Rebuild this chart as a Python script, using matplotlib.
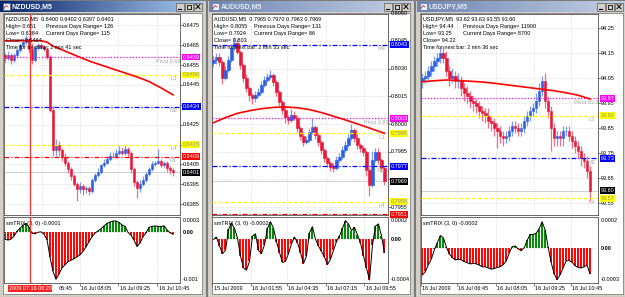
import matplotlib
matplotlib.use("Agg")
import matplotlib.pyplot as plt
import matplotlib.transforms as mtrans
from matplotlib import font_manager
from matplotlib.patches import Rectangle
from matplotlib.colors import to_rgb
import numpy as np

# ======================= DATA =======================
# ---- NZDUSD ----
nz_title = "NZDUSD,M5"
nz_first_open = 0.6460
nz_close = [0.64585, 0.6460, 0.64575, 0.6460, 0.64625, 0.6465, 0.64665, 0.6468, 0.6463, 0.64575,
            0.64635, 0.6465, 0.6464, 0.6463, 0.64592, 0.64325, 0.64125, 0.6415, 0.64125, 0.6409,
            0.6406, 0.64025, 0.6399, 0.6395, 0.63925, 0.6394, 0.63925, 0.6393, 0.63915, 0.6397,
            0.63995, 0.6401, 0.64045, 0.6406, 0.6408, 0.64095, 0.64095, 0.6411, 0.6412, 0.6411,
            0.6413, 0.6411, 0.64025, 0.6396, 0.6393, 0.6395, 0.6397, 0.6400, 0.64025, 0.6405,
            0.6406, 0.6407, 0.64045, 0.6406, 0.6403, 0.6402, 0.6401]
nz_wick_hi = [1, 2, 1, 1, 1, 1, 2, 2, 1, 3, 1, 1, 1, 1, 1, 1, 2, 3, 2, 1,
              2, 1, 1, 1, 1, 2, 1, 1, 1, 1, 1, 2, 1, 2, 1, 2, 2, 2, 3, 2,
              2, 1, 1, 1, 1, 2, 2, 1, 1, 2, 1, 6, 1, 1, 1, 1, 1]
nz_wick_lo = [2, 1, 2, 1, 1, 1, 1, 1, 2, 2, 1, 1, 1, 1, 1, 1, 3, 3, 3, 2,
              2, 2, 2, 1, 6, 2, 3, 2, 2, 1, 1, 1, 1, 1, 1, 1, 1, 1, 1, 1,
              1, 2, 2, 2, 5, 2, 1, 1, 1, 1, 1, 1, 1, 1, 2, 2, 2]
nz_ma_index = [0, 4, 8, 12, 14, 16, 20, 24, 28, 32, 36, 40, 44, 48, 52, 56]
nz_ma = [0.64672, 0.64672, 0.64672, 0.64672, 0.64665, 0.64645, 0.6462, 0.64595, 0.6457, 0.6455,
         0.6453, 0.6451, 0.6449, 0.64467, 0.64435, 0.6440]
nz_levels = [0.6459, 0.6450, 0.6434, 0.6415, 0.6409]
nz_level_kinds = ["pivot", "cam", "mid", "cam", "res"]
nz_level_names = ["Pivot 0.6459", "L3", "M2", "L4", "R1"]
nz_price_ticks = [0.6475, 0.6465, 0.6455, 0.6445, 0.6435, 0.6425, 0.6415, 0.6405, 0.6395, 0.6385]
nz_trix = [-1.4, -1.6, -1.4, -0.8, 0.2, 0.8, 1.4, 1.8, 1.0, -0.2,
           -0.3, 0.0, 0.1, -0.4, -1.5, -5.0, -8.0, -9.6, -8.5, -7.3,
           -6.6, -6.0, -5.7, -5.4, -5.0, -4.6, -3.9, -3.0, -1.9, -0.9,
           -0.2, 0.3, 0.7, 1.3, 1.8, 2.1, 2.3, 2.3, 2.0, 1.5,
           1.2, 0.0, -0.6, -1.6, -2.9, -2.2, -0.9, -0.1, 1.0, 1.2,
           1.3, 1.2, 1.2, 1.3, 0.5, -0.1, -0.4]  # x 1e-4
nz_trix_labels = ["0.0003", "0.00", "-0.001"]
nz_trix_title = "smTRIX (3, 0) -0.0001"
nz_time_labels = ["06:45", "16 Jul 08:05", "16 Jul 09:25", "16 Jul 10:45"]
nz_marker_label = "2009.07.16 06:20"
nz_info_left = ["NZDUSD,M5  0.6400 0.6402 0.6397 0.6401", "High= 0.651", "Low= 0.6384",
                "Close= 0.6464", "Time for next bar: 2 min 41 sec"]
nz_info_right = ["", "Previous Days Range= 126", "Current Days Range= 115", "", ""]

# ---- AUDUSD ----
au_title = "AUDUSD,M5"
au_first_open = 0.8033
au_close = [0.80347, 0.80363, 0.80336, 0.80249, 0.80292, 0.80347, 0.80412, 0.80439, 0.8039, 0.8032,
            0.80249, 0.80195, 0.80157, 0.80141, 0.80157, 0.80173, 0.80211, 0.80238, 0.80255, 0.80265,
            0.80227, 0.80173, 0.80119, 0.80076, 0.80038, 0.80022, 0.80049, 0.80032, 0.79978, 0.79935,
            0.79903, 0.79913, 0.79957, 0.79984, 0.7994, 0.79903, 0.79859, 0.79816, 0.79789, 0.79767,
            0.79762, 0.79805, 0.79821, 0.79859, 0.79886, 0.79924, 0.79968, 0.79924, 0.79886, 0.7987,
            0.79848, 0.79751, 0.7967, 0.79805, 0.79848, 0.79805, 0.79762, 0.7969]
au_wick_hi = [2, 2, 2, 1, 2, 2, 2, 3, 2, 1, 1, 2, 1, 1, 2, 2, 2, 2, 2, 3,
              1, 1, 1, 1, 2, 1, 3, 2, 1, 1, 2, 2, 2, 5, 1, 1, 1, 1, 1, 1,
              2, 2, 2, 2, 2, 2, 3, 1, 2, 1, 1, 1, 1, 5, 2, 2, 1, 1]
au_wick_lo = [2, 2, 2, 3, 1, 1, 1, 1, 1, 2, 2, 2, 3, 3, 2, 1, 1, 1, 1, 1,
              2, 2, 2, 2, 3, 2, 1, 1, 2, 2, 2, 1, 1, 1, 2, 2, 2, 2, 2, 2,
              2, 1, 1, 1, 1, 1, 1, 2, 2, 2, 2, 3, 6, 1, 1, 2, 2, 2]
au_ma_index = [0, 4, 8, 12, 16, 20, 24, 28, 32, 36, 40, 44, 48, 52, 56, 57]
au_ma = [0.80007, 0.80035, 0.80058, 0.80072, 0.80083, 0.8009, 0.80092, 0.80088, 0.80078, 0.80062,
         0.80042, 0.80022, 0.8000, 0.79978, 0.79955, 0.7995]
au_levels = [0.8043, 0.8003, 0.7995, 0.7977, 0.7958, 0.7951]
au_level_kinds = ["mid", "pivot", "cam", "mid", "cam", "res"]
au_level_names = ["M4", "Pivot 0.8003", "L3", "M1", "L4", ""]
au_price_ticks = [0.8060, 0.8045, 0.8030, 0.8015, 0.8000, 0.7985, 0.7970, 0.7955]
au_trix = [0.0, 0.2, -0.6, -1.3, -1.0, 0.9, 1.45, 1.0, 0.1, -1.5,
           -2.6, -2.8, -2.0, 0.3, 0.5, -1.0, -1.3, -0.5, 1.0, 1.6,
           1.0, -0.2, -1.2, -2.1, -2.0, -1.3, -0.4, 0.2, -0.3, -1.2,
           -2.2, -1.5, 0.6, 1.15, 0.0, -0.6, -1.1, -1.6, -2.3, -1.8,
           -1.0, -0.2, 0.3, 1.0, 1.7, 1.4, 0.8, 1.1, 0.4, -0.3,
           -1.5, -2.6, -3.7, -0.5, 1.2, 1.4, 0.3, -1.2]
au_trix_labels = ["0.0002", "0.00", "-0.0004"]
au_trix_title = "smTRIX (3, 0) -0.0002"
au_time_labels = ["15 Jul 2009", "16 Jul 01:55", "16 Jul 04:35", "16 Jul 07:15", "16 Jul 09:55"]
au_info_left = ["AUDUSD,M5  0.7965 0.7970 0.7963 0.7969", "High= 0.8055", "Low= 0.7924",
                "Close= 0.803", "Time for next bar: 2 min 33 sec"]
au_info_right = ["", "Previous Days Range= 131", "Current Days Range= 86", "", ""]

# ---- USDJPY ----
uj_title = "USDJPY,M5"
uj_first_open = 94.04
uj_close = [94.05, 94.06, 94.08, 94.10, 94.12, 94.13, 94.15, 94.13, 94.08, 94.05,
            94.06, 94.04, 94.04, 94.01, 93.99, 93.98, 93.96, 93.95, 93.94, 93.92,
            93.91, 93.90, 93.88, 93.87, 93.85, 93.84, 93.82, 93.81, 93.82, 93.84,
            93.86, 93.85, 93.84, 93.85, 93.88, 93.90, 93.92, 93.93, 93.96, 94.00,
            94.04, 93.96, 93.92, 93.85, 93.81, 93.82, 93.81, 93.84, 93.84, 93.82,
            93.80, 93.78, 93.76, 93.73, 93.72, 93.68, 93.60]
uj_wick_hi = [2, 2, 2, 2, 2, 2, 2, 3, 3, 2, 3, 2, 3, 2, 2, 3, 2, 2, 2, 2,
              2, 2, 3, 2, 2, 2, 2, 2, 2, 2, 2, 2, 2, 2, 2, 2, 2, 2, 3, 3,
              2, 3, 2, 2, 2, 2, 2, 2, 2, 2, 2, 2, 2, 2, 2, 2, 2]
uj_wick_lo = [3, 2, 2, 2, 2, 2, 2, 2, 2, 3, 2, 3, 3, 3, 3, 3, 3, 3, 3, 3,
              3, 3, 3, 3, 3, 7, 3, 3, 2, 2, 2, 2, 2, 2, 2, 2, 2, 2, 2, 2,
              2, 3, 3, 9, 3, 3, 3, 3, 2, 2, 3, 3, 3, 3, 3, 3, 4]
uj_ma_index = [0, 4, 8, 12, 16, 20, 24, 28, 32, 36, 40, 44, 48, 52, 56]
uj_ma = [94.036, 94.040, 94.043, 94.041, 94.038, 94.035, 94.030, 94.024, 94.018, 94.012,
         94.006, 94.000, 93.992, 93.982, 93.967]
uj_levels = [93.97, 93.90, 93.73, 93.57]
uj_level_kinds = ["pivot", "cam", "mid", "cam"]
uj_level_names = ["Pivot 93.97", "L3", "M2", "L4"]
uj_price_ticks = [94.25, 94.15, 94.05, 93.95, 93.85, 93.75, 93.65, 93.55]
uj_trix = [-2.3, -2.0, -1.4, -0.9, -0.1, 0.5, 1.1, 0.9, 0.1, -0.5,
           -0.8, -1.0, -0.95, -1.0, -1.15, -1.25, -1.35, -1.3, -1.35, -1.45,
           -1.6, -1.6, -1.7, -1.8, -1.75, -1.65, -1.6, -1.4, -1.1, -0.4,
           0.15, 0.2, -0.05, -0.2, 0.05, 0.7, 1.2, 1.2, 1.3, 1.7,
           2.3, 1.6, 0.1, -1.2, -2.2, -2.7, -2.3, -1.7, -1.1, -1.05,
           -1.2, -1.5, -1.65, -1.7, -1.6, -1.45, -2.2]
uj_trix_labels = ["0.0002", "0.00", "-0.0003"]
uj_trix_title = "smTRIX (3, 0) -0.0002"
uj_time_labels = ["16 Jul 2009", "16 Jul 06:45", "16 Jul 08:05", "16 Jul 09:25", "16 Jul 10:45"]
uj_info_left = ["USDJPY,M5  93.62 93.63 93.55 93.60", "High= 94.44", "Low= 93.25",
                "Close= 94.22", "Time for next bar: 2 min 36 sec"]
uj_info_right = ["", "Previous Days Range= 11900", "Current Days Range= 8700", "", ""]

# ======================= LAYOUT / STYLE =======================
FIG_W, FIG_H = 625, 297


def has_font(name):
    try:
        font_manager.findfont(font_manager.FontProperties(family=name), fallback_to_default=False)
        return True
    except Exception:
        return False


if has_font("Liberation Sans Narrow"):
    SMALL_FAM, FS = "Liberation Sans Narrow", 4.9
else:
    SMALL_FAM, FS = "Liberation Sans", 4.0
plt.rcParams["font.family"] = [SMALL_FAM, "Liberation Sans", "DejaVu Sans"]

BULL, BEAR = "#2d5fe6", "#e8183a"
BULL_W, BEAR_W = "#7d9cf0", "#f27086"
GREEN, RED = "#008a00", "#ff0000"
LEVEL_STYLE = {
    "pivot": dict(color="#ff00ff", ls=(0, (1, 1.5)), box="#ff00ff", txt="white"),
    "cam": dict(color="#ffff00", ls=(0, (3, 2)), box="#ffff00", txt="#8c8c8c"),
    "mid": dict(color="#0000ff", ls=(0, (4, 1.5, 1, 1.5)), box="#0000ff", txt="white"),
    "res": dict(color="#ff0000", ls=(0, (4, 1.5, 1, 1.5)), box="#ff0000", txt="white"),
}

charts = [
    dict(title=nz_title, first_open=nz_first_open, close=nz_close, wick_hi=nz_wick_hi, wick_lo=nz_wick_lo,
         pip=0.0001, ma_index=nz_ma_index, ma=nz_ma, levels=nz_levels, kinds=nz_level_kinds,
         names=nz_level_names, ticks=nz_price_ticks, fmt="{:.4f}", trix=nz_trix,
         trix_labels=nz_trix_labels, trix_title=nz_trix_title, time_labels=nz_time_labels,
         info_left=nz_info_left, info_right=nz_info_right),
    dict(title=au_title, first_open=au_first_open, close=au_close, wick_hi=au_wick_hi, wick_lo=au_wick_lo,
         pip=0.0001, ma_index=au_ma_index, ma=au_ma, levels=au_levels, kinds=au_level_kinds,
         names=au_level_names, ticks=au_price_ticks, fmt="{:.4f}", trix=au_trix,
         trix_labels=au_trix_labels, trix_title=au_trix_title, time_labels=au_time_labels,
         info_left=au_info_left, info_right=au_info_right),
    dict(title=uj_title, first_open=uj_first_open, close=uj_close, wick_hi=uj_wick_hi, wick_lo=uj_wick_lo,
         pip=0.01, ma_index=uj_ma_index, ma=uj_ma, levels=uj_levels, kinds=uj_level_kinds,
         names=uj_level_names, ticks=uj_price_ticks, fmt="{:.2f}", trix=uj_trix,
         trix_labels=uj_trix_labels, trix_title=uj_trix_title, time_labels=uj_time_labels,
         info_left=uj_info_left, info_right=uj_info_right),
]

layouts = [
    dict(win=(-2, 206), active=True, plot_x=(4, 180), xlim=(-0.33, 58.33),
         ylim=(0.637962, 0.648063), trix_ylim=(-10.35e-4, 3.12e-4),
         trix_label_pos=[2.37e-4, 0.0, -9.6e-4], time_ticks=[12.17, 25.0, 37.83, 50.67],
         label_dx=[17.5, 1.5, 1.5, 1.5], marker=8.33),
    dict(win=(207, 414), active=False, plot_x=(212, 388), xlim=(-0.5, 58.17),
         ylim=(0.79507, 0.80596), trix_ylim=(-3.97e-4, 2.03e-4),
         trix_label_pos=[1.69e-4, 0.0, -3.64e-4], time_ticks=[-0.5, 12.5, 24.5, 37.5, 50.17],
         label_dx=[1.5] * 5, marker=None),
    dict(win=(415, 627), active=False, plot_x=(421, 598), xlim=(-0.5, 58.67),
         ylim=(93.503, 94.307), trix_ylim=(-3.0e-4, 2.71e-4),
         trix_label_pos=[2.45e-4, 0.0, -2.68e-4], time_ticks=[-0.5, 11.5, 24.5, 37.17, 49.5],
         label_dx=[1.5] * 5, marker=None),
]

MAIN_Y = (14, 215)
IND_Y = (217, 283)
BOX_PAD = "square,pad=0.15"

fig = plt.figure(figsize=(FIG_W / 100, FIG_H / 100), dpi=100)
fig.patch.set_facecolor("#d4d0c8")

bg = fig.add_axes([0, 0, 1, 1])
bg.axis("off")


def px_axes(x0, y0, x1, y1):
    return fig.add_axes([x0 / FIG_W, 1 - y1 / FIG_H, (x1 - x0) / FIG_W, (y1 - y0) / FIG_H])


def gradient(x0, x1, y0, y1, c0, c1):
    a, b = np.array(to_rgb(c0)), np.array(to_rgb(c1))
    t = np.linspace(0, 1, 80)[None, :, None]
    img = a + (b - a) * t
    bg.imshow(img, extent=(x0, x1, y1, y0), aspect="auto", interpolation="bilinear", zorder=2)


# ---- window frames ----
for ch, lay in zip(charts, layouts):
    wx0, wx1 = lay["win"]
    bg.add_patch(Rectangle((wx0, 0), wx1 - wx0, FIG_H, fc="#d4d0c8", ec="#7a7a7a", lw=0.8, zorder=1))
    if lay["active"]:
        gradient(wx0 + 2, wx1 - 2, 1.5, 12, "#0a246a", "#a6caf0")
        tcol = "white"
    else:
        gradient(wx0 + 2, wx1 - 2, 1.5, 12, "#6f86b4", "#c3cfe3")
        tcol = "#e8ecf4"
    bg.add_patch(Rectangle((wx0 + 4.5, 3), 7, 7, fc="#eef2fa", ec="#3a5aa0", lw=0.4, zorder=3))
    bg.plot([wx0 + 6, wx0 + 8, wx0 + 10], [8.5, 5.5, 7], color="#c03030", lw=0.6, zorder=4)
    bg.text(wx0 + 14, 7, ch["title"], color=tcol, fontsize=5.0, fontweight="bold",
            family="Liberation Sans", va="center", ha="left", zorder=4)
    for k, bx in enumerate([wx1 - 30, wx1 - 21.5, wx1 - 12]):
        bg.add_patch(Rectangle((bx, 3), 8, 7.5, fc="#d4d0c8", ec="#404040", lw=0.4, zorder=3))
        if k == 0:
            bg.plot([bx + 2, bx + 5], [8.5, 8.5], color="black", lw=0.8, zorder=4)
        elif k == 1:
            bg.add_patch(Rectangle((bx + 2, 4.5), 4, 4, fc="none", ec="black", lw=0.6, zorder=4))
        else:
            bg.plot([bx + 2, bx + 6], [4.5, 8.7], color="black", lw=0.7, zorder=4)
            bg.plot([bx + 2, bx + 6], [8.7, 4.5], color="black", lw=0.7, zorder=4)
    bg.add_patch(Rectangle((wx0 + 4.5, 13), wx1 - wx0 - 9, FIG_H - 16.5, fc="white",
                           ec="#808080", lw=0.6, zorder=3))

bg.set_xlim(0, FIG_W)
bg.set_ylim(FIG_H, 0)


def off(trans, dx=0, dy=0):
    return mtrans.offset_copy(trans, fig=fig, x=dx, y=dy, units="dots")


for ch, lay in zip(charts, layouts):
    px0, px1 = lay["plot_x"]
    ax = px_axes(px0, MAIN_Y[0], px1, MAIN_Y[1])
    ax2 = px_axes(px0, IND_Y[0], px1, IND_Y[1])
    for a in (ax, ax2):
        a.set_facecolor("white")
        for s in a.spines.values():
            s.set_color("#505050")
            s.set_linewidth(0.6)
        a.set_xlim(*lay["xlim"])
    ax.set_ylim(*lay["ylim"])
    ax2.set_ylim(*lay["trix_ylim"])
    px_per_unit = (MAIN_Y[1] - MAIN_Y[0]) / (lay["ylim"][1] - lay["ylim"][0])

    yr = mtrans.blended_transform_factory(ax.transAxes, ax.transData)
    yr2 = mtrans.blended_transform_factory(ax2.transAxes, ax2.transData)

    ax.set_xticks(lay["time_ticks"])
    ax.set_yticks([t for t in ch["ticks"] if lay["ylim"][0] <= t <= lay["ylim"][1]])
    ax.yaxis.tick_right()
    ax.tick_params(axis="y", length=2, width=0.5, labelright=False, color="#505050")
    ax.tick_params(axis="x", length=0, labelbottom=False)
    ax.grid(True, color="#c4c4c4", ls=(0, (1, 2)), lw=0.5, zorder=0)
    ax.set_axisbelow(True)

    ax2.set_xticks(lay["time_ticks"])
    ax2.set_yticks([])
    ax2.tick_params(axis="x", length=2, width=0.5, labelbottom=False, color="#505050")
    ax2.grid(True, axis="x", color="#c4c4c4", ls=(0, (1, 2)), lw=0.5, zorder=0)
    ax2.set_axisbelow(True)
    ax2.axhline(0, color="#c4c4c4", ls=(0, (1, 2)), lw=0.5, zorder=0)

    # candles
    close = np.array(ch["close"])
    n = len(close)
    idx = np.arange(n)
    opens = np.r_[ch["first_open"], close[:-1]]
    up = close >= opens
    hi = np.maximum(opens, close) + np.array(ch["wick_hi"]) * ch["pip"]
    lo = np.minimum(opens, close) - np.array(ch["wick_lo"]) * ch["pip"]
    ax.vlines(idx, lo, hi, colors=np.where(up, BULL_W, BEAR_W), lw=0.9, zorder=2)
    bcol = np.where(up, BULL, BEAR)
    ax.bar(idx, close - opens, bottom=opens, width=0.82, color=bcol, edgecolor=bcol, lw=0.4, zorder=3)

    last = close[-1]
    ax.axhline(last, color="#c8c8c8", lw=0.6, zorder=1)

    for v, kind, name in zip(ch["levels"], ch["kinds"], ch["names"]):
        st = LEVEL_STYLE[kind]
        ax.axhline(v, color=st["color"], ls=st["ls"], lw=0.9, zorder=4)
        if name:
            if kind == "pivot":
                ax.text(1, v, name, transform=off(yr, -24, -1.5), ha="left", va="top",
                        fontsize=FS, color="#a8a8a8", clip_on=True, zorder=6)
            else:
                ax.text(1, v, name, transform=off(yr, -3, -1.5), ha="right", va="top",
                        fontsize=FS, color="#a8a8a8", clip_on=True, zorder=6)

    ax.plot(ch["ma_index"], ch["ma"], color="#ff0000", lw=1.2, zorder=5)

    # price axis labels (those hidden under a level box are not drawn)
    box_vals = list(ch["levels"]) + [last]
    for t in ch["ticks"]:
        if min(abs(t - b) for b in box_vals) * px_per_unit < 3.5:
            continue
        ax.text(1, t, ch["fmt"].format(t), transform=off(yr, 3, 0), ha="left", va="center",
                fontsize=FS, color="black", clip_on=False, zorder=3)
    for v, kind in zip(ch["levels"], ch["kinds"]):
        st = LEVEL_STYLE[kind]
        ax.text(1, v, ch["fmt"].format(v), transform=off(yr, 2.5, 0), ha="left", va="center",
                fontsize=FS, color=st["txt"], clip_on=False, zorder=8,
                bbox=dict(boxstyle=BOX_PAD, fc=st["box"], ec="none"))
    ax.text(1, last, ch["fmt"].format(last), transform=off(yr, 2.5, 0), ha="left", va="center",
            fontsize=FS, color="white", clip_on=False, zorder=9,
            bbox=dict(boxstyle=BOX_PAD, fc="black", ec="none"))

    for k, (l, r) in enumerate(zip(ch["info_left"], ch["info_right"])):
        dy = -(5 + 7.2 * k)
        ax.text(0, 1, l, transform=off(ax.transAxes, 2, dy), ha="left", va="center",
                fontsize=FS, color="black", zorder=10)
        if r:
            ax.text(0, 1, r, transform=off(ax.transAxes, 42, dy), ha="left", va="center",
                    fontsize=FS, color="black", zorder=10)

    # indicator
    tv = np.array(ch["trix"]) * 1e-4
    ax2.vlines(idx, 0, tv, colors=np.where(tv >= 0, GREEN, RED), lw=1.4, zorder=2)
    ax2.plot(idx, tv, color="black", lw=0.7, zorder=3)
    ax2.text(0, 1, ch["trix_title"], transform=off(ax2.transAxes, 2, -6), ha="left", va="center",
             fontsize=FS, color="black", zorder=5)
    for pos, lab in zip(lay["trix_label_pos"], ch["trix_labels"]):
        ax2.text(1, pos, lab, transform=off(yr2, 3, 0), ha="left", va="center", fontsize=FS,
                 color="black", fontweight="bold" if lab == "0.00" else "normal", clip_on=False)

    xb = mtrans.blended_transform_factory(ax2.transData, ax2.transAxes)
    tlabs = ch["time_labels"]
    tpos = lay["time_ticks"][-len(tlabs):]
    for p, lab, dx in zip(tpos, tlabs, lay["label_dx"]):
        ax2.text(p, 0, lab, transform=off(xb, dx, -3), ha="left", va="top", fontsize=FS,
                 color="black", clip_on=False)

    if lay["marker"] is not None:
        ax.axvline(lay["marker"], color="#ff3030", lw=0.9, zorder=6)
        ax2.axvline(lay["marker"], color="#ff3030", lw=0.9, zorder=6)
        ax2.text(lay["marker"], 0, nz_marker_label, transform=off(xb, 0, -3), ha="center", va="top",
                 fontsize=FS, color="white", clip_on=False, zorder=9,
                 bbox=dict(boxstyle=BOX_PAD, fc="#ff2020", ec="none"))

fig.savefig("out.png", dpi=100, facecolor=fig.get_facecolor())
